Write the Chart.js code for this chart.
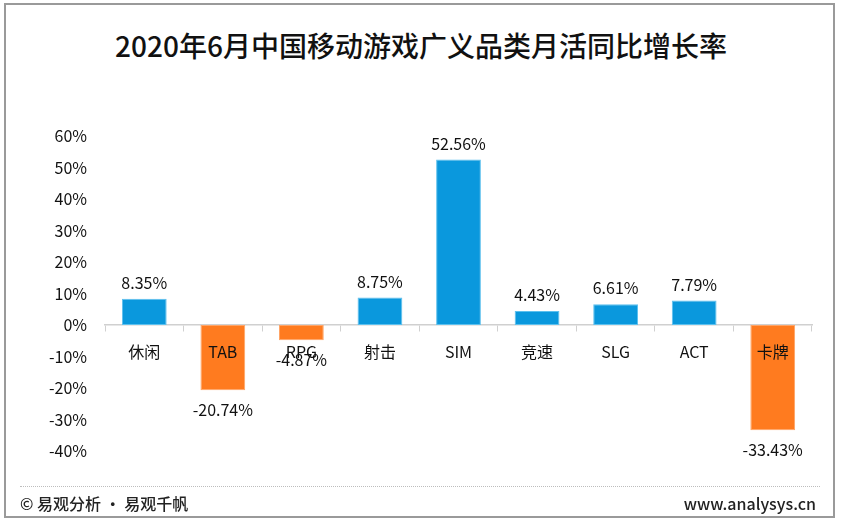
<!DOCTYPE html>
<html>
<head>
<meta charset="utf-8">
<script src="https://cdn.jsdelivr.net/npm/chart.js@4.4.0/dist/chart.umd.min.js"></script>
<style>
  html, body { margin: 0; padding: 0; background: #fff; }
  body { width: 842px; height: 523px; position: relative; overflow: hidden;
         font-family: "Noto Sans CJK SC", "Noto Sans", sans-serif; }
  .frame { position: absolute; left: 4px; top: 3px; width: 831px; height: 515px;
           border: 2px solid #9a9a9a; box-sizing: border-box; }
  .title { position: absolute; left: 0; width: 842px; top: 25px; text-align: center;
           font-size: 28px; font-weight: 500; color: #111; }
  .wrap { position: absolute; left: 0; top: 0; width: 842px; height: 523px; }
  .rule { position: absolute; left: 20px; width: 800px; top: 486px;
          border-top: 1px dotted #bdbdbd; }
  .foot { position: absolute; top: 491px; font-size: 16px; font-weight: 500; color: #222; }
</style>
</head>
<body>
<div class="frame"></div>
<div class="title">2020年6月中国移动游戏广义品类月活同比增长率</div>
<div class="wrap"><canvas id="grafica"></canvas></div>
<div class="rule"></div>
<div class="foot" style="left:20px">© 易观分析 · 易观千帆</div>
<div class="foot" style="right:26px">www.analysys.cn</div>
<script>
// categorias y valores (%)
const categorias = ["休闲", "TAB", "RPG", "射击", "SIM", "竞速", "SLG", "ACT", "卡牌"];
const valores = [8.35, -20.74, -4.87, 8.75, 52.56, 4.43, 6.61, 7.79, -33.43];
const ticksY = [-40, -30, -20, -10, 0, 10, 20, 30, 40, 50, 60];

const azul = '#0a98dd';
const naranja = '#ff7b1f';
const fuente = '"Noto Sans CJK SC", "Noto Sans", sans-serif';

// etiquetas de valor encima / debajo de cada barra
const etiquetasValor = {
    id: 'etiquetasValor',
    afterDatasetsDraw(chart) {
        const ctx = chart.ctx;
        const meta = chart.getDatasetMeta(0);
        ctx.save();
        ctx.font = '16px ' + fuente;
        ctx.fillStyle = '#111';
        ctx.textAlign = 'center';
        meta.data.forEach((barra, i) => {
            const v = valores[i];
            const texto = v.toFixed(2) + '%';
            if (v >= 0) {
                ctx.textBaseline = 'bottom';
                ctx.fillText(texto, barra.x, barra.y - 8);
            } else {
                ctx.textBaseline = 'top';
                ctx.fillText(texto, barra.x, barra.y + 12);
            }
        });
        ctx.restore();
    }
};

new Chart(document.querySelector('#grafica'), {
    type: 'bar',
    data: {
        labels: categorias,
        datasets: [{
            data: valores,
            backgroundColor: valores.map(v => v >= 0 ? azul : naranja),
            borderColor: valores.map(v => v >= 0 ? '#5cc0ee' : '#ffa466'),
            borderWidth: 1,
            borderSkipped: false,
            barPercentage: 0.57,
            categoryPercentage: 1
        }]
    },
    options: {
        responsive: true,
        maintainAspectRatio: false,
        animation: false,
        layout: { padding: { left: 0, right: 30, top: 136, bottom: 72 } },
        plugins: { legend: { display: false }, tooltip: { enabled: false } },
        scales: {
            x: {
                position: { y: 0 },
                grid: { offset: true, drawOnChartArea: false, tickLength: 6, color: '#d0d0d0' },
                border: { color: '#d0d0d0', width: 1.5 },
                // z: 1 -> las etiquetas encima de las barras (TAB, 卡牌)
                ticks: { z: 1, color: '#111', padding: 11, font: { family: fuente, size: 16 } }
            },
            y: {
                min: -40,
                max: 60,
                afterFit(scale) { scale.width = 105; },
                afterBuildTicks(scale) { scale.ticks = ticksY.map(v => ({ value: v })); },
                grid: { display: false },
                border: { display: false },
                ticks: {
                    color: '#111',
                    padding: 10,
                    font: { family: fuente, size: 16 },
                    callback: v => v + '%'
                }
            }
        }
    },
    plugins: [etiquetasValor]
});
</script>
</body>
</html>
